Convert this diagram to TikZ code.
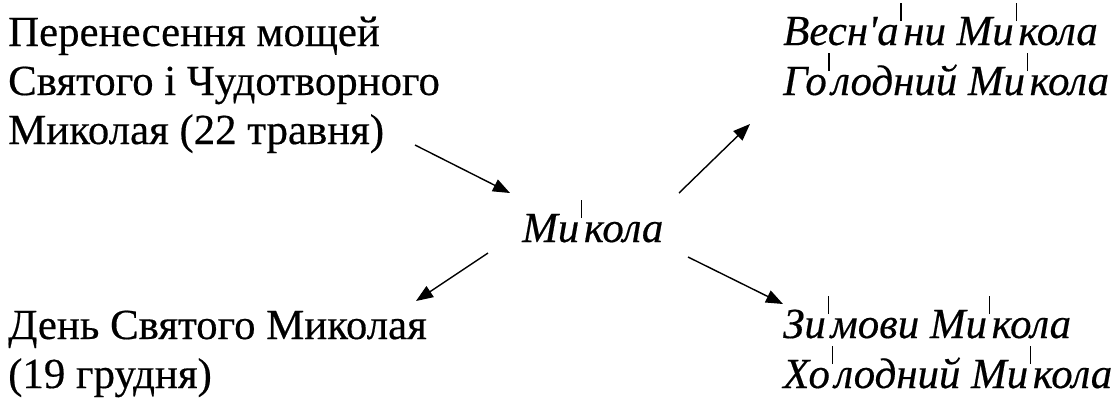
\documentclass[tikz,border=0pt]{standalone}
\usepackage{fontspec}
\setmainfont{Liberation Serif}[FakeBold=0.4]
\newfontfamily\aposfont{Liberation Serif}[Ligatures=TeXOff,FakeBold=0.4]
\usetikzlibrary{arrows.meta}
% raised vertical stress mark placed before the stressed syllable
\newcommand\strs{\kern0.04em\raisebox{0.56em}{\rule{0.028em}{0.43em}}\kern0.04em}
% straight apostrophe
\newcommand\apos{{\aposfont\itshape '}}
\begin{document}
\begin{tikzpicture}[x=1bp,y=-1bp,
  txt/.style={inner sep=0pt,anchor=base west,font=\fontsize{43}{49}\selectfont},
  itx/.style={txt,font=\fontsize{43}{49}\selectfont\itshape},
  link/.style={line width=1.4bp,-{Triangle[length=17bp,width=13bp]}}]
\useasboundingbox (0,0) rectangle (1115,397);
% feast of the translation of the relics
\node[txt] (l1) at (8,46)  {Перенесення мощей};
\node[txt] (l2) at (8,95)  {Святого і Чудотворного};
\node[txt] (l3) at (8,144) {Миколая (22 травня)};
% spring names
\node[itx] (r1) at (783,45) {Весн\apos а\strs ни Ми\strs кола};
\node[itx] (r2) at (783,95) {Го\strs лодний Ми\strs кола};
% central name
\node[itx] (mid) at (522,242) {Ми\strs кола};
% winter feast
\node[txt] (b1) at (8,339) {День Святого Миколая};
\node[txt] (b2) at (8,388) {(19 грудня)};
% winter names
\node[itx] (c1) at (783,338) {Зи\strs мови Ми\strs кола};
\node[itx] (c2) at (783,388) {Хо\strs лодний Ми\strs кола};
% arrow ends
\coordinate (a1s) at (415,145); \coordinate (a1e) at (510,193);
\coordinate (a2s) at (679,193); \coordinate (a2e) at (750,124);
\coordinate (a3s) at (488,253); \coordinate (a3e) at (416,301);
\coordinate (a4s) at (688,257); \coordinate (a4e) at (783,304);
\draw[link] (a1s) -- (a1e);
\draw[link] (a2s) -- (a2e);
\draw[link] (a3s) -- (a3e);
\draw[link] (a4s) -- (a4e);
\end{tikzpicture}
\end{document}
